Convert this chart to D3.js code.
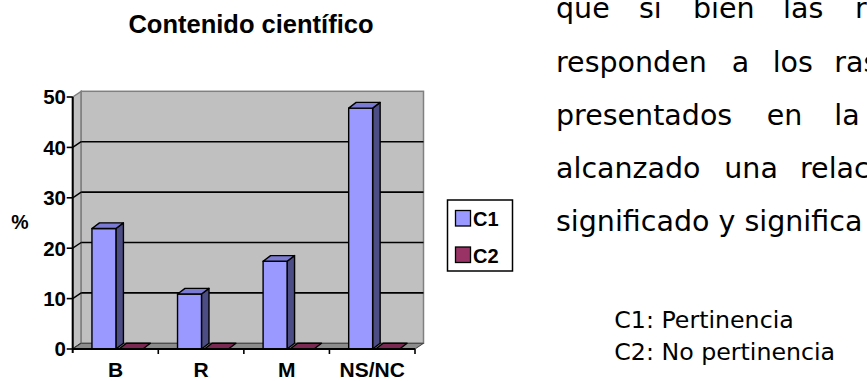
<!DOCTYPE html>
<html>
<head>
<meta charset="utf-8">
<script src="https://cdn.jsdelivr.net/npm/d3@7"></script>
<style>
  html, body { margin: 0; padding: 0; background: #fff; }
  svg { display: block; }
</style>
</head>
<body>
<script>
// ---- data ----
const categories = ["B", "R", "M", "NS/NC"];
const seriesNames = ["C1", "C2"];
const c1Values = [23.9, 10.9, 17.4, 47.8];
const c2Values = [0, 0, 0, 0];
const yTicks = [0, 10, 20, 30, 40, 50];
const chartTitle = "Contenido científico";
const yLabel = "%";
const bodyLines = [
  ["que", "si", "bien", "las", "r"],
  ["responden", "a", "los", "ras"],
  ["presentados", "en", "la"],
  ["alcanzado", "una", "relac"],
  ["significado y significa"]
];
const notes = ["C1: Pertinencia", "C2: No pertinencia"];

// ---- layout ----
const W = 867, H = 381;
const svg = d3.select("body").append("svg").attr("width", W).attr("height", H);

const x0 = 72.7, x1 = 415;
const y = d3.scaleLinear().domain([0, 50]).range([349, 97]);
const xb = d3.scaleBand().domain(categories).range([x0, x1]);
const bw = xb.bandwidth();
const WDX = 8.5, WDY = -5.7;   // wall depth
const BDX = 7.5, BDY = -5.7;   // bar depth
const colors = { c1: "#9999ff", c1side: "#4d4d85", c1top: "#7b7bd3", c2: "#993366", c2top: "#7a2952" };
const chartFont = "'Liberation Sans', Arial, sans-serif";

const g = svg.append("g");
const pts = a => a.map(p => p.join(",")).join(" ");

// side wall
g.append("polygon")
  .attr("points", pts([[x0, y(50)], [x0 + WDX, y(50) + WDY], [x0 + WDX, y(0) + WDY], [x0, y(0)]]))
  .attr("fill", "#c0c0c0").attr("stroke", "#808080").attr("stroke-width", 1.5);
// back wall
g.append("rect")
  .attr("x", x0 + WDX).attr("y", y(50) + WDY)
  .attr("width", x1 - x0).attr("height", y(0) - y(50))
  .attr("fill", "#c0c0c0").attr("stroke", "#808080").attr("stroke-width", 1.5);

// gridlines
yTicks.filter(v => v > 0 && v < 50).forEach(v => {
  g.append("line")
    .attr("x1", x0 + WDX).attr("x2", x1 + WDX)
    .attr("y1", y(v) + WDY).attr("y2", y(v) + WDY)
    .attr("stroke", "#000").attr("stroke-width", 1.6);
});
yTicks.filter(v => v < 50).forEach(v => {
  g.append("line")
    .attr("x1", x0).attr("y1", y(v))
    .attr("x2", x0 + WDX).attr("y2", y(v) + WDY)
    .attr("stroke", "#000").attr("stroke-width", 1.4);
});

// floor
g.append("polygon")
  .attr("points", pts([[x0, y(0)], [x0 + WDX, y(0) + WDY], [x1 + WDX, y(0) + WDY], [x1, y(0)]]))
  .attr("fill", "#8c8c8c").attr("stroke", "#404040").attr("stroke-width", 1);

// bars
const barW = bw * 0.28, gap = 3, off = bw * 0.225;
function bar3d(xl, v, front, side, top) {
  const yt = y(v), yb = y(0);
  const bg = g.append("g").attr("stroke", "#000").attr("stroke-width", 1.4).attr("stroke-linejoin", "round");
  if (v > 0) {
    bg.append("polygon").attr("fill", side)
      .attr("points", pts([[xl + barW, yt], [xl + barW + BDX, yt + BDY], [xl + barW + BDX, yb + BDY], [xl + barW, yb]]));
    bg.append("rect").attr("fill", front)
      .attr("x", xl).attr("y", yt).attr("width", barW).attr("height", yb - yt);
  }
  bg.append("polygon").attr("fill", top)
    .attr("points", pts([[xl, yt], [xl + BDX, yt + BDY], [xl + barW + BDX, yt + BDY], [xl + barW, yt]]));
}
categories.forEach((c, i) => {
  const xa = xb(c) + off;
  bar3d(xa, c1Values[i], colors.c1, colors.c1side, colors.c1top);
  bar3d(xa + barW + gap, c2Values[i], colors.c2, colors.c2top, colors.c2top);
});

// axes
g.append("line").attr("x1", x0).attr("x2", x0).attr("y1", y(50)).attr("y2", y(0) + 4)
  .attr("stroke", "#000").attr("stroke-width", 2);
g.append("line").attr("x1", x0).attr("x2", x1).attr("y1", y(0)).attr("y2", y(0))
  .attr("stroke", "#000").attr("stroke-width", 2);
yTicks.forEach(v => {
  g.append("line").attr("x1", x0 - 6).attr("x2", x0).attr("y1", y(v)).attr("y2", y(v))
    .attr("stroke", "#000").attr("stroke-width", 1.6);
  g.append("text").attr("x", 66).attr("y", y(v) + 7.3)
    .attr("text-anchor", "end").attr("font-family", chartFont).attr("font-weight", "bold")
    .attr("font-size", 20.5).text(v);
});
categories.forEach(c => {
  g.append("line").attr("x1", xb(c) + bw).attr("x2", xb(c) + bw).attr("y1", y(0)).attr("y2", y(0) + 5)
    .attr("stroke", "#000").attr("stroke-width", 1.6);
  g.append("text").attr("x", xb(c) + bw / 2).attr("y", 377)
    .attr("text-anchor", "middle").attr("font-family", chartFont).attr("font-weight", "bold")
    .attr("font-size", 21).text(c);
});

// title & y label
g.append("text").attr("x", 251).attr("y", 33).attr("text-anchor", "middle")
  .attr("font-family", chartFont).attr("font-weight", "bold").attr("font-size", 25.5).text(chartTitle);
g.append("text").attr("x", 20).attr("y", 229).attr("text-anchor", "middle")
  .attr("font-family", chartFont).attr("font-weight", "bold").attr("font-size", 19.5).text(yLabel);

// legend
const lg = svg.append("g");
lg.append("rect").attr("x", 447.5).attr("y", 200).attr("width", 65).attr("height", 71)
  .attr("fill", "#fff").attr("stroke", "#000").attr("stroke-width", 1.5);
[[colors.c1, 210.5], [colors.c2, 247]].forEach(([col, yy], i) => {
  lg.append("rect").attr("x", 455.5).attr("y", yy).attr("width", 15).attr("height", 15.5)
    .attr("fill", col).attr("stroke", "#000").attr("stroke-width", 1.3);
  lg.append("text").attr("x", 473).attr("y", yy + 15.5)
    .attr("font-family", chartFont).attr("font-weight", "bold").attr("font-size", 20).text(seriesNames[i]);
});

// body text
const bodyFont = "'DejaVu Sans', Verdana, sans-serif";
const wordX = [
  [556, 639, 693, 783, 855],
  [556, 731.7, 772.7, 834.3],
  [556, 766.7, 834.3],
  [556, 724.3, 800],
  [556]
];
const lineY = [18.3, 71.7, 125, 178.3, 230.5];
bodyLines.forEach((words, li) => {
  words.forEach((w, wi) => {
    svg.append("text").attr("x", wordX[li][wi]).attr("y", lineY[li])
      .attr("font-family", bodyFont).attr("font-size", 28.5).attr("fill", "#000").text(w);
  });
});
notes.forEach((t, i) => {
  svg.append("text").attr("x", 614.3).attr("y", 328.3 + i * 31.7)
    .attr("font-family", bodyFont).attr("font-size", 23.7).attr("fill", "#000").text(t);
});
</script>
</body>
</html>
